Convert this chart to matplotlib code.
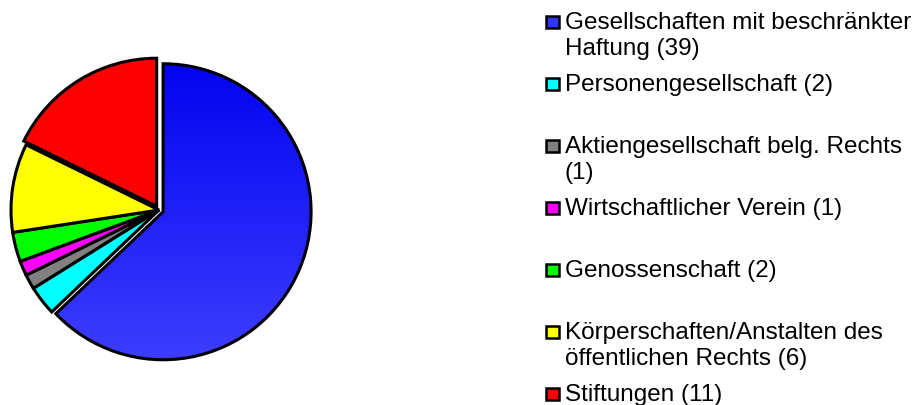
import numpy as np
import matplotlib
matplotlib.use("Agg")
import matplotlib.pyplot as plt
from matplotlib.patches import Rectangle

labels = [
    "Gesellschaften mit beschränkter\nHaftung (39)",
    "Personengesellschaft (2)",
    "Aktiengesellschaft belg. Rechts\n(1)",
    "Wirtschaftlicher Verein (1)",
    "Genossenschaft (2)",
    "Körperschaften/Anstalten des\nöffentlichen Rechts (6)",
    "Stiftungen (11)",
]
values = [39, 2, 1, 1, 2, 6, 11]
colors = ["#3333FF", "#00FFFF", "#808080", "#FF00FF", "#00FF00", "#FFFF00", "#FF0000"]
explode = [0.03, 0, 0, 0, 0, 0, 0.03]

W, H = 920, 406
fig = plt.figure(figsize=(W / 100, H / 100), dpi=100)
plt.rcParams['font.family'] = ['Liberation Sans', 'DejaVu Sans']

# pie axes: center (159, 211) px, radius 148 px
R = 148.0
cx, cy = 159.0, 211.0
half = 1.1 * R
ax = fig.add_axes([(cx - half) / W, (H - cy - half) / H, 2 * half / W, 2 * half / H])
ax.set_xlim(-1.1, 1.1)
ax.set_ylim(-1.1, 1.1)
ax.set_aspect('equal')
ax.axis('off')

wedges, _ = ax.pie(values, colors=colors, explode=explode, startangle=90,
                   counterclock=False, radius=1.0,
                   wedgeprops=dict(edgecolor='black', linewidth=2.2))

# gradient on blue wedge
bw = wedges[0]
grad = np.linspace(0, 1, 256).reshape(-1, 1)
top = np.array([0, 0, 240]) / 255.0
bot = np.array([64, 64, 255]) / 255.0
img = top[None, None, :] * (1 - grad[:, :, None]) + bot[None, None, :] * grad[:, :, None]
im = ax.imshow(img, extent=[-1.1, 1.1, -1.1, 1.1], origin='upper', aspect='auto', zorder=1)
im.set_clip_path(bw)
bw.set_facecolor('none')
bw.set_zorder(2)
ax.set_xlim(-1.1, 1.1)
ax.set_ylim(-1.1, 1.1)

# legend
x_marker = 553
x_text = 565
y0 = 23
step = 62.0
line_h = 26
for i, (lab, col) in enumerate(zip(labels, colors)):
    y = y0 + i * step
    fig.patches.append(Rectangle(((x_marker - 6.5) / W, (H - y - 6) / H), 13 / W, 12 / H,
                                 transform=fig.transFigure, facecolor=col,
                                 edgecolor='black', linewidth=1.8))
    for j, line in enumerate(lab.split('\n')):
        fig.text(x_text / W, (H - (y + j * line_h)) / H, line, fontsize=17.5,
                 va='center', ha='left', color='black')

fig.savefig("out.png", dpi=100)
